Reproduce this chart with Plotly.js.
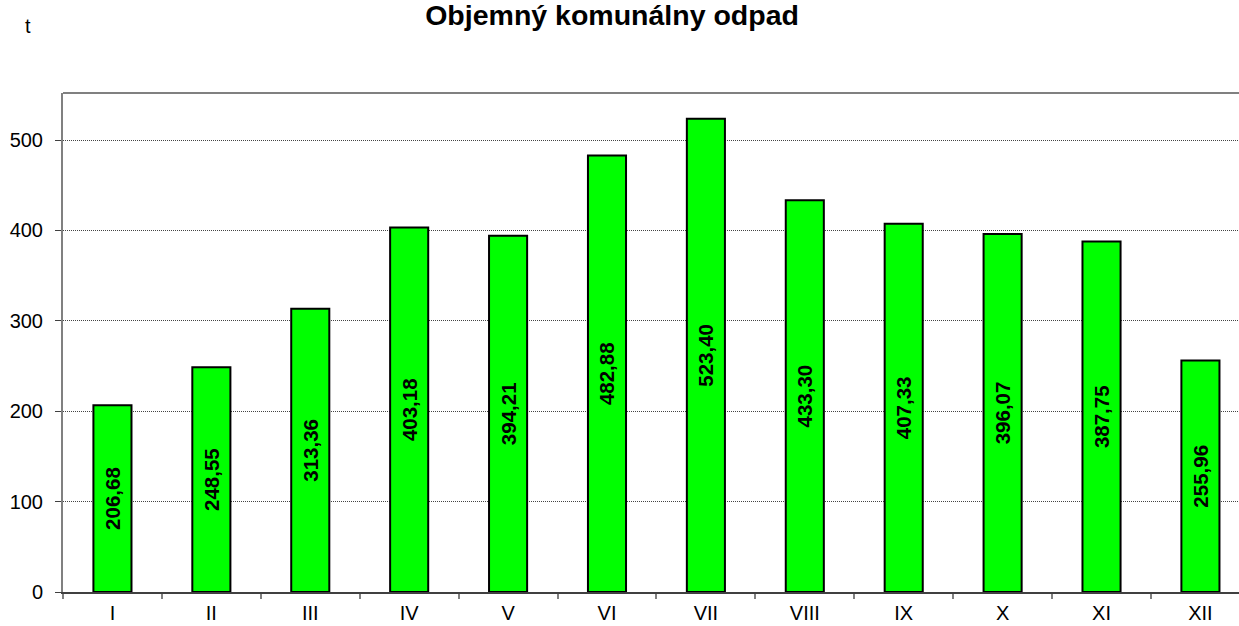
<!DOCTYPE html>
<html>
<head>
<meta charset="utf-8">
<script src="https://cdn.plot.ly/plotly-3.0.1.min.js"></script>
<style>
  html, body { margin: 0; padding: 0; background: #fff; }
  #chart { width: 1239px; height: 626px; }
</style>
</head>
<body>
<div id="chart"></div>
<script>
// months in roman numerals and tonnes collected
let months = ["I", "II", "III", "IV", "V", "VI", "VII", "VIII", "IX", "X", "XI", "XII"];
let tonnes = [206.68, 248.55, 313.36, 403.18, 394.21, 482.88, 523.40, 433.30, 407.33, 396.07, 387.75, 255.96];
let yTicks = [0, 100, 200, 300, 400, 500];

// labels use decimal comma
let labels = tonnes.map(v => v.toFixed(2).replace(".", ","));

let font = "Liberation Sans, Arial, sans-serif";

let trace = {
    type: "bar",
    x: months,
    y: tonnes,
    text: labels,
    textposition: "inside",
    insidetextanchor: "middle",
    textangle: -90,
    textfont: { family: font, size: 20.5, color: "#000", weight: "bold" },
    marker: { color: "#00ff00", line: { color: "#000", width: 2 } },
    hoverinfo: "x+y"
};

let layout = {
    width: 1239,
    height: 626,
    margin: { l: 63, r: 0, t: 93, b: 34 },
    paper_bgcolor: "#fff",
    plot_bgcolor: "#fff",
    showlegend: false,
    bargap: 0.615,
    font: { family: font, size: 20, color: "#000" },
    title: {
        text: "<b>Objemný komunálny odpad</b>",
        font: { family: font, size: 28.5, color: "#000" },
        x: 0.494,
        xanchor: "center",
        y: 0.976,
        yanchor: "middle"
    },
    xaxis: {
        type: "category",
        range: [-0.5, 11.39],
        tickson: "boundaries",
        ticks: "outside",
        ticklen: 5,
        tickcolor: "#808080",
        tickwidth: 2,
        showline: true,
        linecolor: "#404040",
        linewidth: 2,
        showgrid: false,
        tickfont: { family: font, size: 20, color: "#000" },
        ticklabelstandoff: 2
    },
    yaxis: {
        range: [0, 552],
        tickvals: yTicks,
        ticks: "outside",
        ticklen: 6,
        tickcolor: "#404040",
        tickwidth: 1,
        showline: true,
        linecolor: "#808080",
        linewidth: 2,
        showgrid: true,
        gridcolor: "#444",
        gridwidth: 1,
        griddash: "1px,1px",
        zeroline: false,
        tickfont: { family: font, size: 20, color: "#000" },
        ticklabelstandoff: 8
    },
    shapes: [{
        type: "line", xref: "paper", yref: "paper",
        x0: 0, x1: 1, y0: 1, y1: 1,
        line: { color: "#808080", width: 2 }
    }],
    annotations: [{
        text: "t",
        xref: "paper", yref: "paper",
        x: -0.03, y: 1.135,
        xanchor: "center", yanchor: "middle",
        showarrow: false,
        font: { family: font, size: 20, color: "#000" }
    }]
};

Plotly.newPlot("chart", [trace], layout, { displayModeBar: false, staticPlot: true });
</script>
</body>
</html>
